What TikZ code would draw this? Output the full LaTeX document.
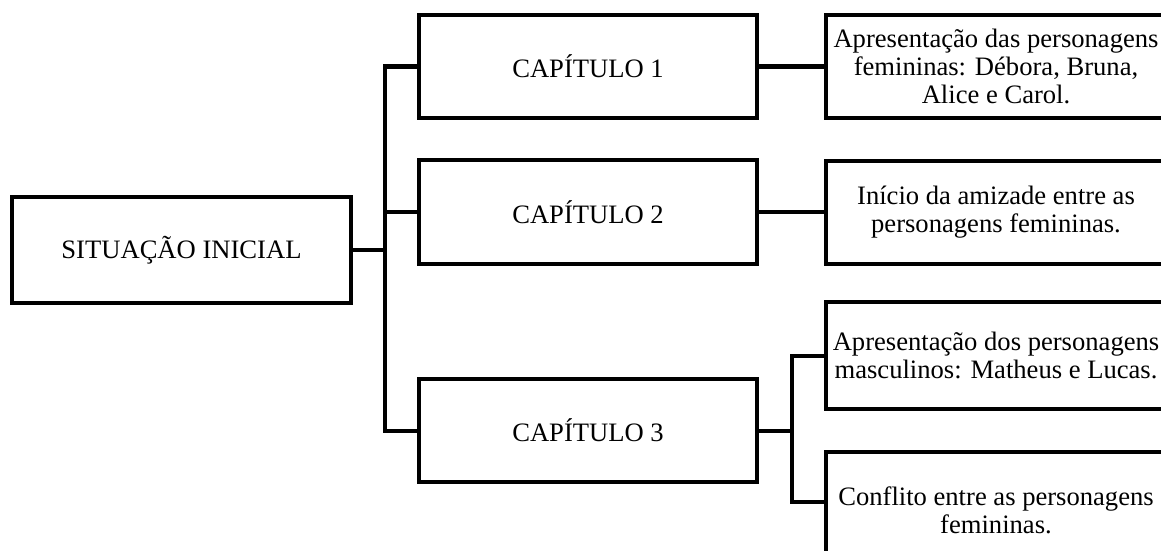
\documentclass[tikz,border=0pt]{standalone}
\usepackage{fontspec}
\setmainfont{Liberation Serif}
\begin{document}
\begin{tikzpicture}[x=1pt,y=-1pt,
  box/.style={draw=black,line width=4pt,rectangle,inner sep=0pt,align=center,
    font=\fontsize{26.6}{27.8}\selectfont},
  conn/.style={draw=black,line width=4pt}]
\useasboundingbox (0,0) rectangle (1161,551);
\clip (0,0) rectangle (1161,551);
\node[box,minimum width=339pt,minimum height=106pt] (si) at (181.5,250) {SITUAÇÃO INICIAL};
\node[box,minimum width=338pt,minimum height=103pt] (c1) at (588,66.5) {CAPÍTULO 1};
\node[box,minimum width=338pt,minimum height=104pt] (c2) at (588,212) {CAPÍTULO 2};
\node[box,minimum width=338pt,minimum height=103pt] (c3) at (588,430.5) {CAPÍTULO 3};
\node[box,minimum width=340pt,minimum height=103pt] (r1) at (996,66.5) {Apresentação das personagens\\femininas: Débora, Bruna,\\Alice e Carol.};
\node[box,minimum width=340pt,minimum height=103pt] (r2) at (996,212) {Início da amizade entre as\\personagens femininas.};
\node[box,minimum width=340pt,minimum height=107pt] (r3) at (996,355.5) {Apresentação dos personagens\\masculinos: Matheus e Lucas.};
\node[box,minimum width=340pt,minimum height=116pt] (r4) at (996,510) {Conflito entre as personagens\\femininas.};
\coordinate (t) at (385,250);
\coordinate (s) at (792,430.5);
\coordinate (r4in) at (826,502);
\draw[conn] (si.east) -- (t);
\draw[conn] (c1.west) -| (t);
\draw[conn] (c3.west) -| (t);
\draw[conn] (c2.west) -- (c2.west -| t);
\draw[conn] (c1.east) -- (r1.west);
\draw[conn] (c2.east) -- (r2.west);
\draw[conn] (c3.east) -- (s);
\draw[conn] (r3.west) -| (s);
\draw[conn] (r4in) -| (s);
\end{tikzpicture}
\end{document}
